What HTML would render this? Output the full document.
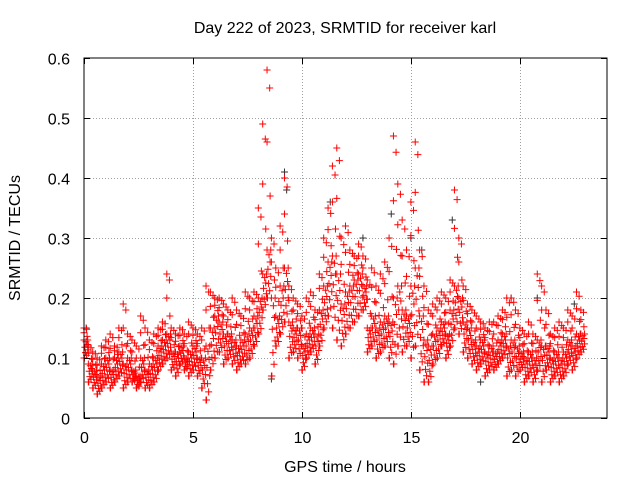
<!DOCTYPE html>
<html><head><meta charset="utf-8"><style>
body{margin:0;background:#fff}
svg{display:block;font-family:"Liberation Sans",sans-serif;font-size:16px}
</style></head><body>
<svg id="chart" width="640" height="480">
<rect x="0" y="0" width="640" height="480" fill="#fff"/>
<g id="grid"></g>
<g id="marks"></g>
<rect x="84" y="58" width="523" height="360" fill="none" stroke="#000" stroke-width="1"/>
<g id="axes"></g>
<text x="345" y="33" text-anchor="middle">Day 222 of 2023, SRMTID for receiver karl</text>
<text x="345" y="472" text-anchor="middle">GPS time / hours</text>
<text x="0" y="0" transform="translate(20,238) rotate(-90)" text-anchor="middle">SRMTID / TECUs</text>
</svg>
<script>
const xTicks=[0,5,10,15,20];
const yTicks=[0,0.1,0.2,0.3,0.4,0.5,0.6];
const yTickLabels=["0","0.1","0.2","0.3","0.4","0.5","0.6"];
const times=[0,0.2,0.4,0.6,0.8,1.0,1.2,1.4,1.6,1.8,2.0,2.2,2.4,2.6,2.8,3.0,3.2,3.4,3.6,3.8,4.0,4.2,4.4,4.6,4.8,5.0,5.2,5.4,5.6,5.8,6.0,6.2,6.4,6.6,6.8,7.0,7.2,7.4,7.6,7.8,8.0,8.2,8.4,8.6,8.8,9.0,9.2,9.4,9.6,9.8,10.0,10.2,10.4,10.6,10.8,11.0,11.2,11.4,11.6,11.8,12.0,12.2,12.4,12.6,12.8,13.0,13.2,13.4,13.6,13.8,14.0,14.2,14.4,14.6,14.8,15.0,15.2,15.4,15.6,15.8,16.0,16.2,16.4,16.6,16.8,17.0,17.2,17.4,17.6,17.8,18.0,18.2,18.4,18.6,18.8,19.0,19.2,19.4,19.6,19.8,20.0,20.2,20.4,20.6,20.8,21.0,21.2,21.4,21.6,21.8,22.0,22.2,22.4,22.6,22.8];
const lowVals=[.10,.06,.05,.04,.05,.06,.05,.06,.07,.05,.06,.06,.05,.06,.05,.05,.06,.08,.09,.10,.08,.07,.09,.08,.07,.08,.07,.05,.03,.08,.10,.11,.09,.10,.09,.08,.09,.09,.10,.12,.14,.18,.20,.07,.12,.14,.16,.10,.11,.10,.08,.10,.11,.09,.12,.15,.17,.15,.13,.12,.14,.15,.16,.17,.18,.11,.12,.10,.11,.12,.10,.09,.12,.11,.12,.10,.12,.08,.06,.06,.09,.10,.12,.10,.12,.15,.14,.11,.10,.09,.08,.09,.07,.08,.08,.09,.10,.07,.08,.07,.08,.06,.07,.06,.08,.06,.08,.06,.07,.06,.07,.09,.08,.10,.11];
const midVals=[.13,.09,.08,.07,.09,.10,.08,.10,.11,.09,.10,.08,.07,.10,.08,.09,.10,.12,.13,.14,.11,.11,.12,.10,.11,.12,.10,.10,.12,.15,.17,.16,.14,.14,.13,.12,.13,.14,.15,.17,.20,.24,.28,.20,.17,.22,.25,.16,.15,.15,.12,.14,.15,.14,.18,.22,.26,.27,.24,.19,.21,.22,.23,.24,.22,.15,.17,.15,.16,.17,.16,.20,.22,.18,.17,.22,.25,.17,.13,.12,.14,.15,.16,.14,.18,.22,.20,.16,.15,.13,.12,.13,.11,.12,.11,.13,.14,.12,.13,.12,.11,.10,.11,.10,.13,.12,.12,.10,.11,.10,.11,.13,.12,.14,.14];
const highVals=[.15,.12,.11,.10,.12,.13,.14,.12,.15,.19,.14,.13,.12,.17,.15,.13,.14,.15,.16,.24,.15,.14,.15,.14,.16,.15,.14,.15,.22,.21,.20,.20,.19,.18,.20,.18,.17,.21,.20,.21,.35,.49,.58,.30,.25,.32,.40,.22,.20,.19,.17,.20,.21,.18,.24,.30,.35,.42,.45,.30,.32,.28,.27,.29,.27,.23,.25,.22,.24,.26,.30,.47,.39,.33,.28,.36,.46,.28,.22,.18,.19,.20,.21,.20,.23,.38,.30,.22,.19,.18,.17,.16,.15,.16,.16,.17,.18,.20,.20,.18,.15,.14,.16,.14,.24,.22,.18,.14,.15,.16,.15,.18,.17,.21,.18];
const blackTimes=[9.2,9.3,11.3,15.0,15.5,8.6,12.8,20.8,19.6,18.2,14.1,0.1,16.9,22.5];
const blackVals=[.41,.38,.36,.30,.28,.065,.30,.20,.20,.06,.34,.15,.33,.19];

const X0=84,X1=607,Y0=418,Y1=58;
const xs=t=>X0+t*(X1-X0)/24;
const ys=v=>Y0-v*(Y0-Y1)/0.6;
const NS="http://www.w3.org/2000/svg";
const grid=document.getElementById('grid'),axes=document.getElementById('axes'),marks=document.getElementById('marks');
function mk(tag,attrs,parent){const e=document.createElementNS(NS,tag);for(const k in attrs)e.setAttribute(k,attrs[k]);parent.appendChild(e);return e;}
yTicks.forEach((v,i)=>{
  const y=Math.round(ys(v))+0.5;
  if(i>0&&i<yTicks.length-1){const g=mk('line',{x1:X0,x2:X1,y1:y,y2:y,stroke:'#a0a0a0','stroke-dasharray':'1,2'},grid);
  
  }
  const t=mk('line',{x1:X0,x2:X0+6,y1:y,y2:y,stroke:'#000'},axes);
  
  
  const t2=mk('line',{x1:X1-6,x2:X1,y1:y,y2:y,stroke:'#000'},axes);
  
  
  const l=mk('text',{x:X0-14,y:y+6,'text-anchor':'end'},axes);l.textContent=yTickLabels[i];
  
  
});
xTicks.forEach(v=>{
  const x=Math.round(xs(v))+0.5;
  if(v>0){const g=mk('line',{x1:x,x2:x,y1:Y1,y2:Y0,stroke:'#a0a0a0','stroke-dasharray':'1,2'},grid);
  
  }
  const t=mk('line',{x1:x,x2:x,y1:Y0,y2:Y0-6,stroke:'#000'},axes);
  
  
  const t2=mk('line',{x1:x,x2:x,y1:Y1,y2:Y1+6,stroke:'#000'},axes);
  
  
  const l=mk('text',{x:x,y:Y0+25,'text-anchor':'middle'},axes);l.textContent=String(v);
  
  
});
function plus(t,v,color){
  const x=xs(t),y=ys(v);
  const p=mk('path',{d:`M${x-3.5} ${y}h7M${x} ${y-3.5}v7`,stroke:color,'stroke-width':1,fill:'none'},marks);
  
  
}
blackTimes.forEach((t,i)=>plus(t,blackVals[i],'#333'));
const fr=[0,0.15,0.3,0.45,0.6,0.75,0.9,1];
const offs=[0.02,0.12,0.07,0.17,0.04,0.14,0.09,0.0];
times.forEach((t,i)=>{
  const lo=lowVals[i],mi=midVals[i],hi=highVals[i];
  plus(t,lo,'#f00');
  plus(t,hi,'#f00');
  fr.forEach((f,k)=>{
    plus(t+offs[k],lo+(mi-lo)*f,'#f00');
    if(k%2===0) plus(t+offs[(k+3)%8],mi+(hi-mi)*f,'#f00');
  });
});
</script>
</body></html>
